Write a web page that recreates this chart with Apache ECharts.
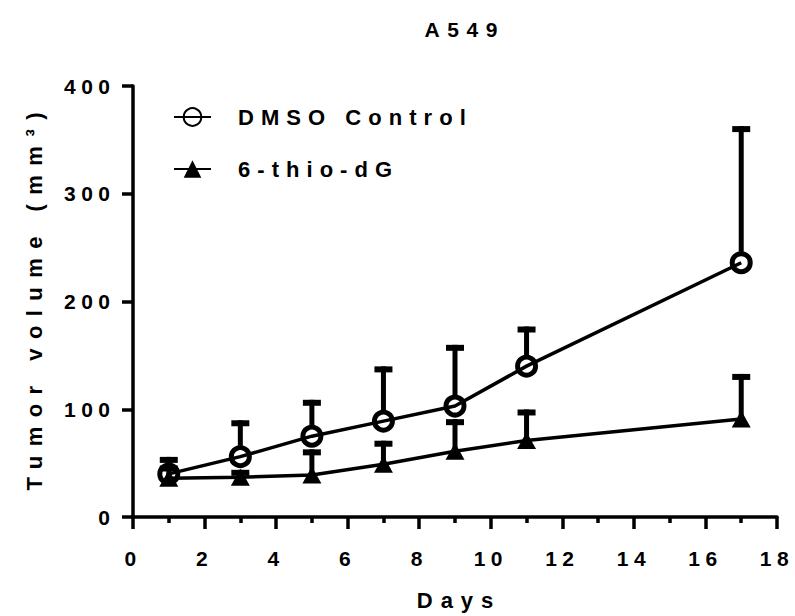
<!DOCTYPE html>
<html>
<head>
<meta charset="utf-8">
<script src="https://cdn.jsdelivr.net/npm/echarts@6/dist/echarts.min.js"></script>
<style>
  html, body { margin: 0; padding: 0; background: #fff; }
  #main { width: 795px; height: 616px; }
</style>
</head>
<body>
<div id="main"></div>
<script>
// ---- data ----
var days = [1, 3, 5, 7, 9, 11, 17];
var dmsoMean = [40, 56, 75, 89, 103, 140, 236];
var dmsoErr  = [13, 31, 31, 48, 54, 34, 124];
var thioMean = [36, 37, 39, 49, 61, 71, 91];
var thioErr  = [9, 4, 21, 19, 27, 26, 39];
var seriesNames = ['DMSO Control', '6-thio-dG'];
var xTicks = [0, 2, 4, 6, 8, 10, 12, 14, 16, 18];
var yTicks = [0, 100, 200, 300, 400];
var titleText = 'A549';
var xName = 'Days';
var yName = 'Tumor volume (mm³)';

var FONT = 'Liberation Sans, Arial, sans-serif';

function pairs(mean) { return days.map(function (d, i) { return [d, mean[i]]; }); }
function errData(mean, err) { return days.map(function (d, i) { return [d, mean[i], mean[i] + err[i]]; }); }

// error bar (upper only), stem starting `gap` px above the point (outside the marker)
function makeErr(gap) {
  return function (params, api) {
    var p0 = api.coord([api.value(0), api.value(1)]);
    var p1 = api.coord([api.value(0), api.value(2)]);
    var y0 = Math.max(p0[1] - gap, p1[1]);
    return {
      type: 'group',
      children: [
        { type: 'line', shape: { x1: p0[0], y1: y0, x2: p1[0], y2: p1[1] - 3 },
          style: { stroke: '#000', lineWidth: 5 } },
        { type: 'line', shape: { x1: p1[0] - 9, y1: p1[1], x2: p1[0] + 9, y2: p1[1] },
          style: { stroke: '#000', lineWidth: 6 } }
      ]
    };
  };
}

var chart = echarts.init(document.getElementById('main'), null, { renderer: 'svg' });
chart.setOption({
  animation: false,
  backgroundColor: '#fff',
  title: {
    text: titleText, left: 456, top: 14, textAlign: 'center',
    textStyle: { fontFamily: FONT, fontWeight: 'bold', fontSize: 21, color: '#000' }
  },
  legend: {
    left: 168, top: 101, orient: 'vertical',
    itemWidth: 37, itemHeight: 22, itemGap: 30,
    data: seriesNames,
    textStyle: { fontFamily: FONT, fontWeight: 'bold', fontSize: 22, color: '#000', padding: [0, 0, 0, 22] }
  },
  grid: { left: 133, right: 18, top: 86, bottom: 97, containLabel: false },
  xAxis: {
    type: 'value', min: xTicks[0], max: xTicks[xTicks.length - 1], interval: 2,
    name: xName, nameLocation: 'middle', nameGap: 72,
    nameTextStyle: { fontFamily: FONT, fontWeight: 'bold', fontSize: 22, color: '#000' },
    axisLine: { lineStyle: { color: '#000', width: 3.5 } },
    axisTick: { show: true, inside: false, length: 12, lineStyle: { color: '#000', width: 3.5 } },
    minorTick: { show: true, splitNumber: 2, length: 6, lineStyle: { color: '#000', width: 3.5 } },
    axisLabel: { margin: 31, fontFamily: FONT, fontWeight: 'bold', fontSize: 21, color: '#000' },
    splitLine: { show: false }
  },
  yAxis: {
    type: 'value', min: yTicks[0], max: yTicks[yTicks.length - 1], interval: 100,
    name: yName, nameLocation: 'middle', nameGap: 88, nameRotate: 90,
    nameTextStyle: { fontFamily: FONT, fontWeight: 'bold', fontSize: 22, color: '#000' },
    axisLine: { show: true, lineStyle: { color: '#000', width: 3.5 } },
    axisTick: { show: true, inside: false, length: 11, lineStyle: { color: '#000', width: 3.5 } },
    axisLabel: { margin: 23, fontFamily: FONT, fontWeight: 'bold', fontSize: 21, color: '#000' },
    splitLine: { show: false }
  },
  series: [
    {
      type: 'custom', name: 'dmsoErr', renderItem: makeErr(11), z: 1,
      data: errData(dmsoMean, dmsoErr), encode: { x: 0, y: 1 }, silent: true
    },
    {
      type: 'custom', name: 'thioErr', renderItem: makeErr(0), z: 1,
      data: errData(thioMean, thioErr), encode: { x: 0, y: 1 }, silent: true
    },
    {
      type: 'line', name: seriesNames[0], data: pairs(dmsoMean), z: 3,
      symbol: 'circle', symbolSize: 18,
      lineStyle: { color: '#000', width: 3.5 },
      itemStyle: { color: 'rgba(255,255,255,0)', borderColor: '#000', borderWidth: 5 }
    },
    {
      type: 'line', name: seriesNames[1], data: pairs(thioMean), z: 3,
      symbol: 'triangle', symbolSize: [19, 17],
      lineStyle: { color: '#000', width: 3.5 },
      itemStyle: { color: '#000', borderColor: '#000', borderWidth: 0 }
    }
  ]
});

// letter spacing like the reference (wide-tracked bold text)
var xTickStrings = xTicks.map(String);
function spacingFor(txt) {
  if (txt === titleText) return 0.36;
  if (txt === yName) return 0.43;
  if (txt === xName) return 0.36;
  if (seriesNames.indexOf(txt) >= 0) return 0.32;
  return 0.26;
}
function applySpacing() {
  var texts = document.querySelectorAll('#main text');
  texts.forEach(function (t) {
    var txt = t.textContent;
    var fs = parseFloat(getComputedStyle(t).fontSize) || 16;
    var ls = spacingFor(txt) * fs;
    t.style.letterSpacing = ls + 'px';
    var anchor = t.getAttribute('text-anchor') || getComputedStyle(t).textAnchor;
    if (anchor === 'middle' && xTickStrings.indexOf(txt) < 0) t.setAttribute('dx', ls / 2);
    else if (anchor === 'end') t.setAttribute('dx', ls);
    else t.removeAttribute('dx');
  });
}
chart.on('finished', applySpacing);
applySpacing();
</script>
</body>
</html>
